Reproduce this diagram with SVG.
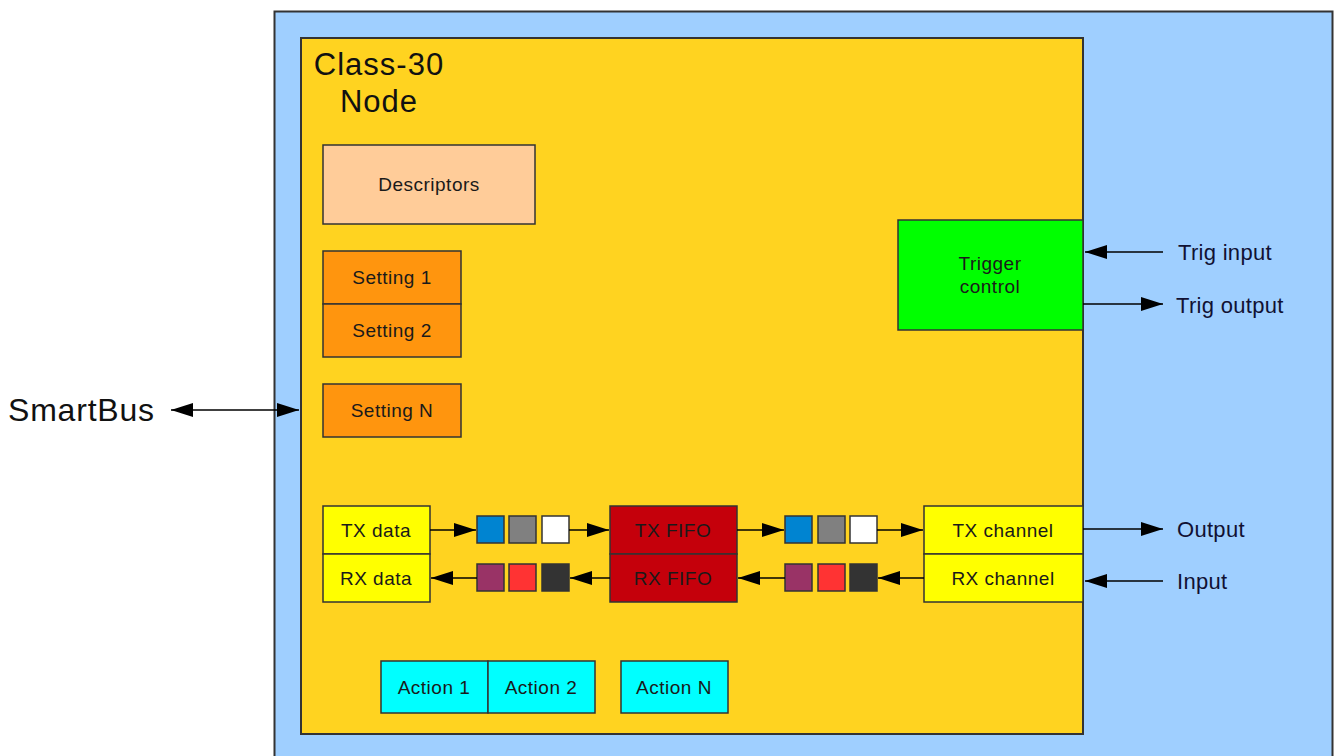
<svg xmlns="http://www.w3.org/2000/svg" width="1334" height="756" viewBox="0 0 1334 756">
<defs>
<marker id="ah" markerUnits="userSpaceOnUse" markerWidth="23" markerHeight="15" refX="22" refY="7" orient="auto-start-reverse" viewBox="0 0 23 15">
<path d="M0,0 L22,7 L0,14 z" fill="#000"/>
</marker>
<style>
.box{stroke:#333;stroke-width:1.5}
.t{font-family:"Liberation Sans",Arial,sans-serif;font-size:19px;fill:#1a1a1a;text-anchor:middle;letter-spacing:0.5px}
.ext{font-family:"Liberation Sans",Arial,sans-serif;font-size:22px;fill:#111133;letter-spacing:0.3px}
.c{stroke:#000;stroke-width:1.5;fill:none}
.sq{stroke:#333;stroke-width:1.5}
</style>
</defs>
<rect width="1334" height="756" fill="#fff"/>
<g id="outer">
<rect x="274.5" y="11.5" width="1058" height="760" fill="#9fcfff" stroke="#333" stroke-width="2"/>
</g>
<g id="node">
<rect x="301" y="38" width="782" height="696" fill="#ffd320" stroke="#333" stroke-width="2"/>
<text x="379" y="75" style="font-family:'Liberation Sans',Arial,sans-serif;font-size:31px;fill:#111;text-anchor:middle;letter-spacing:1px">Class-30</text>
<text x="379" y="112" style="font-family:'Liberation Sans',Arial,sans-serif;font-size:31px;fill:#111;text-anchor:middle;letter-spacing:1px">Node</text>
</g>
<g id="descriptors">
<rect class="box" x="323" y="145" width="212" height="79" fill="#ffcc99"/>
<text class="t" x="429" y="191">Descriptors</text>
</g>
<g id="setting1">
<rect class="box" x="323" y="251" width="138" height="53" fill="#ff950e"/>
<text class="t" x="392" y="284">Setting 1</text>
</g>
<g id="setting2">
<rect class="box" x="323" y="304" width="138" height="53" fill="#ff950e"/>
<text class="t" x="392" y="337">Setting 2</text>
</g>
<g id="settingN">
<rect class="box" x="323" y="384" width="138" height="53" fill="#ff950e"/>
<text class="t" x="392" y="417">Setting N</text>
</g>
<g id="trigger">
<rect class="box" x="898" y="220" width="185" height="110" fill="#00ff00"/>
<text class="t" x="990" y="270">Trigger</text>
<text class="t" x="990" y="293">control</text>
</g>
<g id="txdata">
<rect class="box" x="323" y="506" width="107" height="48" fill="#ffff00"/>
<text class="t" x="376" y="537">TX data</text>
</g>
<g id="rxdata">
<rect class="box" x="323" y="554" width="107" height="48" fill="#ffff00"/>
<text class="t" x="376" y="585">RX data</text>
</g>
<g id="txfifo">
<rect class="box" x="610" y="506" width="127" height="48" fill="#c5000b"/>
<text class="t" x="673" y="537">TX FIFO</text>
</g>
<g id="rxfifo">
<rect class="box" x="610" y="554" width="127" height="48" fill="#c5000b"/>
<text class="t" x="673" y="585">RX FIFO</text>
</g>
<g id="txchannel">
<rect class="box" x="924" y="506" width="159" height="48" fill="#ffff00"/>
<text class="t" x="1003" y="537">TX channel</text>
</g>
<g id="rxchannel">
<rect class="box" x="924" y="554" width="159" height="48" fill="#ffff00"/>
<text class="t" x="1003" y="585">RX channel</text>
</g>
<g id="packets">
<rect class="sq" x="477" y="516" width="27" height="27" fill="#0084d1"/>
<rect class="sq" x="509" y="516" width="27" height="27" fill="#808080"/>
<rect class="sq" x="542" y="516" width="27" height="27" fill="#ffffff"/>
<rect class="sq" x="477" y="564" width="27" height="27" fill="#993366"/>
<rect class="sq" x="509" y="564" width="27" height="27" fill="#ff3333"/>
<rect class="sq" x="542" y="564" width="27" height="27" fill="#333333"/>
<rect class="sq" x="785" y="516" width="27" height="27" fill="#0084d1"/>
<rect class="sq" x="818" y="516" width="27" height="27" fill="#808080"/>
<rect class="sq" x="850" y="516" width="27" height="27" fill="#ffffff"/>
<rect class="sq" x="785" y="564" width="27" height="27" fill="#993366"/>
<rect class="sq" x="818" y="564" width="27" height="27" fill="#ff3333"/>
<rect class="sq" x="850" y="564" width="27" height="27" fill="#333333"/>
</g>
<g id="actions">
<rect class="box" x="381" y="661" width="107" height="52" fill="#00ffff"/>
<text class="t" x="434" y="694">Action 1</text>
<rect class="box" x="488" y="661" width="107" height="52" fill="#00ffff"/>
<text class="t" x="541" y="694">Action 2</text>
<rect class="box" x="621" y="661" width="107" height="52" fill="#00ffff"/>
<text class="t" x="674" y="694">Action N</text>
</g>
<g id="labels">
<text x="8" y="421" style="font-family:'Liberation Sans',Arial,sans-serif;font-size:32px;fill:#111;letter-spacing:0.8px">SmartBus</text>
<text class="ext" x="1178" y="260">Trig input</text>
<text class="ext" x="1176" y="313">Trig output</text>
<text class="ext" x="1177" y="537">Output</text>
<text class="ext" x="1177" y="589">Input</text>
</g>
<g id="connectors">
<line class="c" x1="171" y1="410" x2="299" y2="410" marker-start="url(#ah)" marker-end="url(#ah)"/>
<line class="c" x1="430" y1="530" x2="476" y2="530" marker-end="url(#ah)"/>
<line class="c" x1="569" y1="530" x2="609" y2="530" marker-end="url(#ah)"/>
<line class="c" x1="737" y1="530" x2="784" y2="530" marker-end="url(#ah)"/>
<line class="c" x1="877" y1="530" x2="923" y2="530" marker-end="url(#ah)"/>
<line class="c" x1="924" y1="578" x2="878" y2="578" marker-end="url(#ah)"/>
<line class="c" x1="785" y1="578" x2="738" y2="578" marker-end="url(#ah)"/>
<line class="c" x1="610" y1="578" x2="570" y2="578" marker-end="url(#ah)"/>
<line class="c" x1="477" y1="578" x2="431" y2="578" marker-end="url(#ah)"/>
<line class="c" x1="1083" y1="529" x2="1163" y2="529" marker-end="url(#ah)"/>
<line class="c" x1="1163" y1="581" x2="1085" y2="581" marker-end="url(#ah)"/>
<line class="c" x1="1163" y1="252" x2="1085" y2="252" marker-end="url(#ah)"/>
<line class="c" x1="1083" y1="304" x2="1163" y2="304" marker-end="url(#ah)"/>
</g>
</svg>
